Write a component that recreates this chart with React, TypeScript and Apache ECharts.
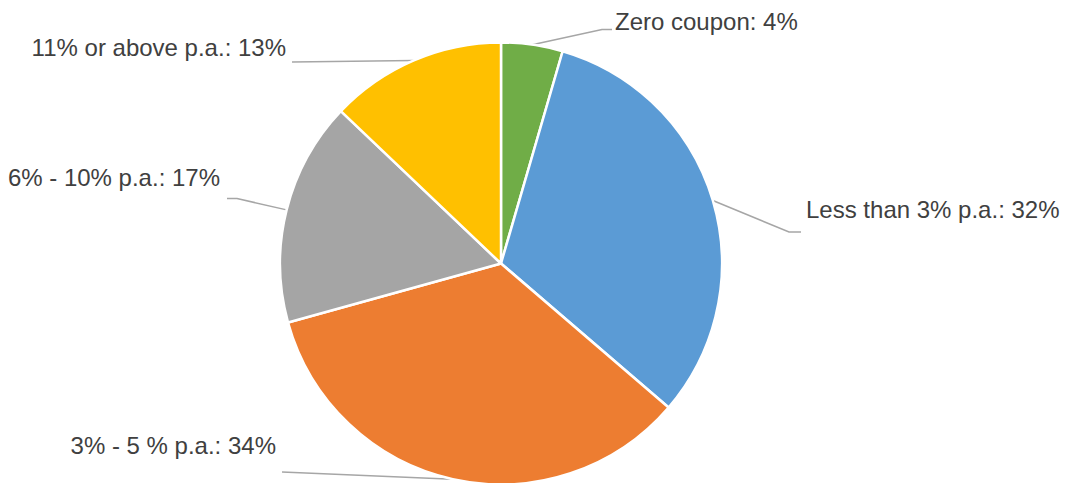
import React, { useEffect, useRef } from "react";
import * as echarts from "echarts";

const categories = [
  "Zero coupon",
  "Less than 3% p.a.",
  "3% - 5 % p.a.",
  "6% - 10% p.a.",
  "11% or above p.a.",
];
// slice sizes
const sliceValues = [4.5, 31.8, 34.4, 16.4, 12.9];
// percentages as printed in the labels
const labelPercents = [4, 32, 34, 17, 13];
const colors = ["#70AD47", "#5B9BD5", "#ED7D31", "#A5A5A5", "#FFC000"];

// label layout: text anchor + leader line bend/end points
const labelPlacement = [
  { x: 615, y: 21, align: "left", line: [[602, 29.5], [612, 29.5]] },
  { x: 806, y: 209, align: "left", line: [[789, 232], [801, 232]] },
  { x: 276, y: 445, align: "right", line: [[282, 472]] },
  { x: 220, y: 177, align: "right", line: [[237, 198.5], [227, 198.5]] },
  { x: 286, y: 47, align: "right", line: [[292, 62]] },
];

export default function App() {
  const ref = useRef<HTMLDivElement>(null);
  useEffect(() => {
    if (!ref.current) return;
    const chart = echarts.init(ref.current, null, { renderer: "svg" });
    chart.setOption({
      animation: false,
      backgroundColor: "#ffffff",
      series: [
        {
          type: "pie",
          center: [501, 263.5],
          radius: 221,
          startAngle: 90,
          clockwise: true,
          avoidLabelOverlap: false,
          itemStyle: { borderColor: "#ffffff", borderWidth: 2.5 },
          label: {
            show: true,
            position: "outside",
            formatter: (p: any) => `${p.name}: ${labelPercents[p.dataIndex]}%`,
            fontFamily: "Liberation Sans, Arial, sans-serif",
            fontSize: 24,
            color: "#404040",
          },
          labelLine: {
            show: true,
            length: 20,
            length2: 10,
            lineStyle: { color: "#A6A6A6", width: 1.5 },
          },
          labelLayout: (params: any) => {
            const p = labelPlacement[params.dataIndex];
            const start =
              params.labelLinePoints && params.labelLinePoints[0]
                ? params.labelLinePoints[0]
                : [0, 0];
            return {
              x: p.x,
              y: p.y,
              align: p.align,
              verticalAlign: "middle",
              labelLinePoints: [start, ...p.line],
            };
          },
          data: categories.map((name, i) => ({
            name,
            value: sliceValues[i],
            itemStyle: { color: colors[i] },
          })),
        },
      ],
    });
    return () => chart.dispose();
  }, []);
  return (
    <div
      ref={ref}
      style={{ position: "fixed", left: 0, top: 0, width: 1065, height: 483 }}
    />
  );
}
